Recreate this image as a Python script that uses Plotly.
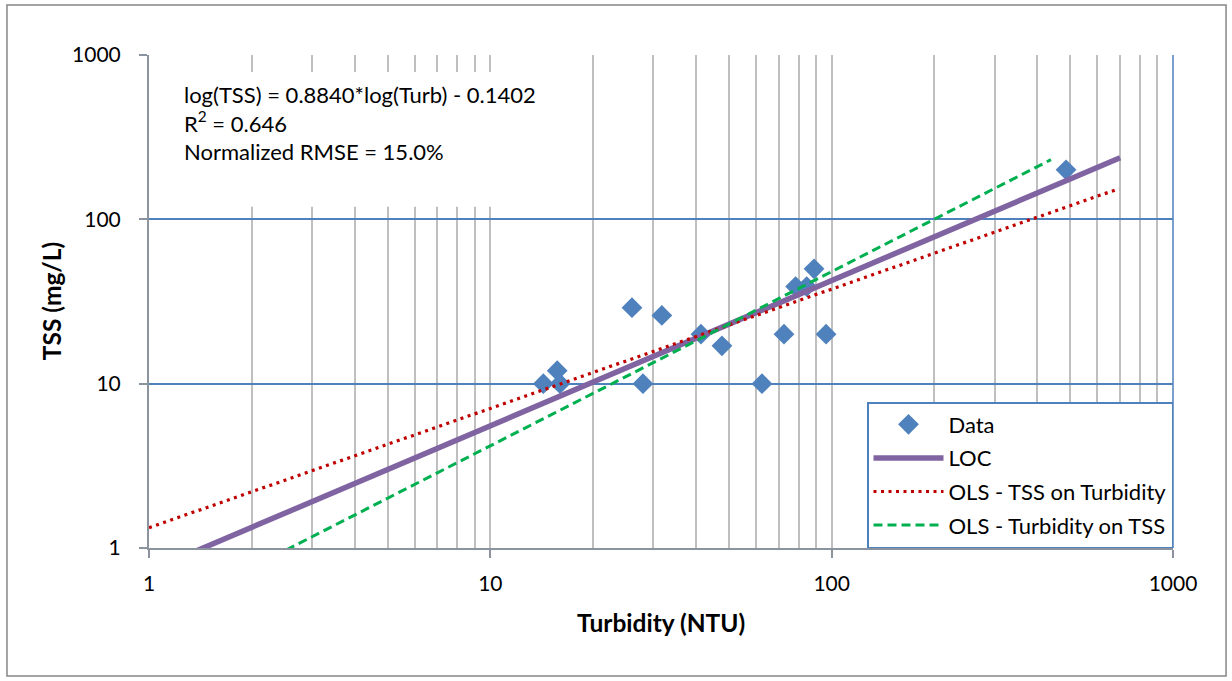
import plotly.graph_objects as go
import numpy as np

# ---- data ----
turbidity = [14.3, 15.7, 16.0, 26.0, 28.0, 31.8, 41.4, 47.7, 62.5, 72.5, 78.4, 84.5, 88.8, 96.3, 486]
tss = [10, 12, 10, 29, 10, 26, 20, 17, 10, 20, 39, 39, 50, 20, 200]

loc_coef = [0.8840, -0.1402]          # log(TSS) = a*log(Turb) + b
loc_xrange = [1, 700]
ols_tss_coef = [0.726, 0.1235]
ols_tss_xrange = [1, 695]
ols_turb_coef = [1.06, -0.438]
ols_turb_xrange = [1, 439]

x_ticks = [1, 10, 100, 1000]
y_ticks = [1, 10, 100, 1000]
minor_x = [m * d for d in [1, 10, 100] for m in range(2, 10)]

eq_text = "log(TSS) = 0.8840*log(Turb) - 0.1402<br>R<sup>2</sup> = 0.646<br>Normalized RMSE = 15.0%"

FONT = "Lato"

def fit_line(coef, xr):
    xs = np.array(xr, dtype=float)
    ys = 10 ** (coef[0] * np.log10(xs) + coef[1])
    return xs, ys

fig = go.Figure()
fig.add_trace(go.Scatter(x=turbidity, y=tss, mode="markers", name="Data", legendgroup="a",
                         marker=dict(symbol="diamond", size=16, color="#4F81BD")))
lx, ly = fit_line(loc_coef, loc_xrange)
fig.add_trace(go.Scatter(x=lx, y=ly, mode="lines", name="LOC", legendgroup="b",
                         line=dict(color="#8064A2", width=5.5)))
rx, ry = fit_line(ols_tss_coef, ols_tss_xrange)
fig.add_trace(go.Scatter(x=rx, y=ry, mode="lines", name="OLS - TSS on Turbidity", legendgroup="c",
                         line=dict(color="#C00000", width=3.2, dash="3px,4.5px")))
gx, gy = fit_line(ols_turb_coef, ols_turb_xrange)
fig.add_trace(go.Scatter(x=gx, y=gy, mode="lines", name="OLS - Turbidity on TSS", legendgroup="d",
                         line=dict(color="#00B050", width=3, dash="9px,5px")))

axis_col = "#8A939E"
fig.update_layout(
    width=1232, height=681,
    margin=dict(l=149, r=59, t=55, b=133),
    paper_bgcolor="white", plot_bgcolor="white",
    font=dict(family=FONT, size=22, color="black"),
    showlegend=True,
    legend=dict(x=1, y=0, xanchor="right", yanchor="bottom",
                bgcolor="white", bordercolor="#4F81BD", borderwidth=1.5,
                font=dict(family=FONT, size=22), itemwidth=70,
                tracegroupgap=2),
    xaxis=dict(type="log", range=[0, 3], tickvals=x_ticks, ticktext=[str(v) for v in x_ticks],
               ticks="outside", ticklen=8, tickcolor=axis_col, tickwidth=2,
               showline=True, linecolor=axis_col, linewidth=2,
               showgrid=True, gridcolor="#BFBFBF", gridwidth=2,
               minor=dict(tickvals=minor_x, showgrid=True, gridcolor="#BFBFBF", gridwidth=2, ticks=""),
               tickfont=dict(size=21), ticklabelstandoff=8, zeroline=False),
    yaxis=dict(type="log", range=[0, 3], tickvals=y_ticks, ticktext=[str(v) for v in y_ticks],
               ticks="outside", ticklen=8, tickcolor=axis_col, tickwidth=2,
               showline=True, linecolor=axis_col, linewidth=2,
               showgrid=True, gridcolor="#4F81BD", gridwidth=1.5,
               tickfont=dict(size=21), ticklabelstandoff=14, zeroline=False),
    shapes=[
        # white text box behind equation
        dict(type="rect", xref="paper", yref="paper", x0=0.02, x1=0.396, y0=0.692, y1=0.9655,
             fillcolor="white", line=dict(width=0), layer="above"),
        # right edge of plot area
        dict(type="line", xref="paper", yref="paper", x0=1, x1=1, y0=0, y1=1,
             line=dict(color="#4F81BD", width=1.5)),
        # outer chart border
        dict(type="rect", xref="paper", yref="paper", x0=-0.1387, x1=1.0518, y0=-0.2596, y1=1.1014,
             line=dict(color="#868686", width=1.5), fillcolor="rgba(0,0,0,0)"),
    ],
    annotations=[
        dict(text=eq_text, xref="paper", yref="paper", x=0.032, y=0.952, xanchor="left", yanchor="top",
             align="left", showarrow=False, font=dict(family=FONT, size=22)),
        dict(text="<b>Turbidity (NTU)</b>", xref="paper", yref="paper", x=0.5, y=-0.152,
             xanchor="center", yanchor="middle", showarrow=False, font=dict(family=FONT, size=24.5)),
        dict(text="<b>TSS (mg/L)</b>", xref="paper", yref="paper", x=-0.095, y=0.5, textangle=-90,
             xanchor="center", yanchor="middle", showarrow=False, font=dict(family=FONT, size=24.5)),
    ],
)

fig.write_html("out.html", config={"displayModeBar": False},
               post_script="document.body.style.margin='0';document.body.style.padding='0';")
